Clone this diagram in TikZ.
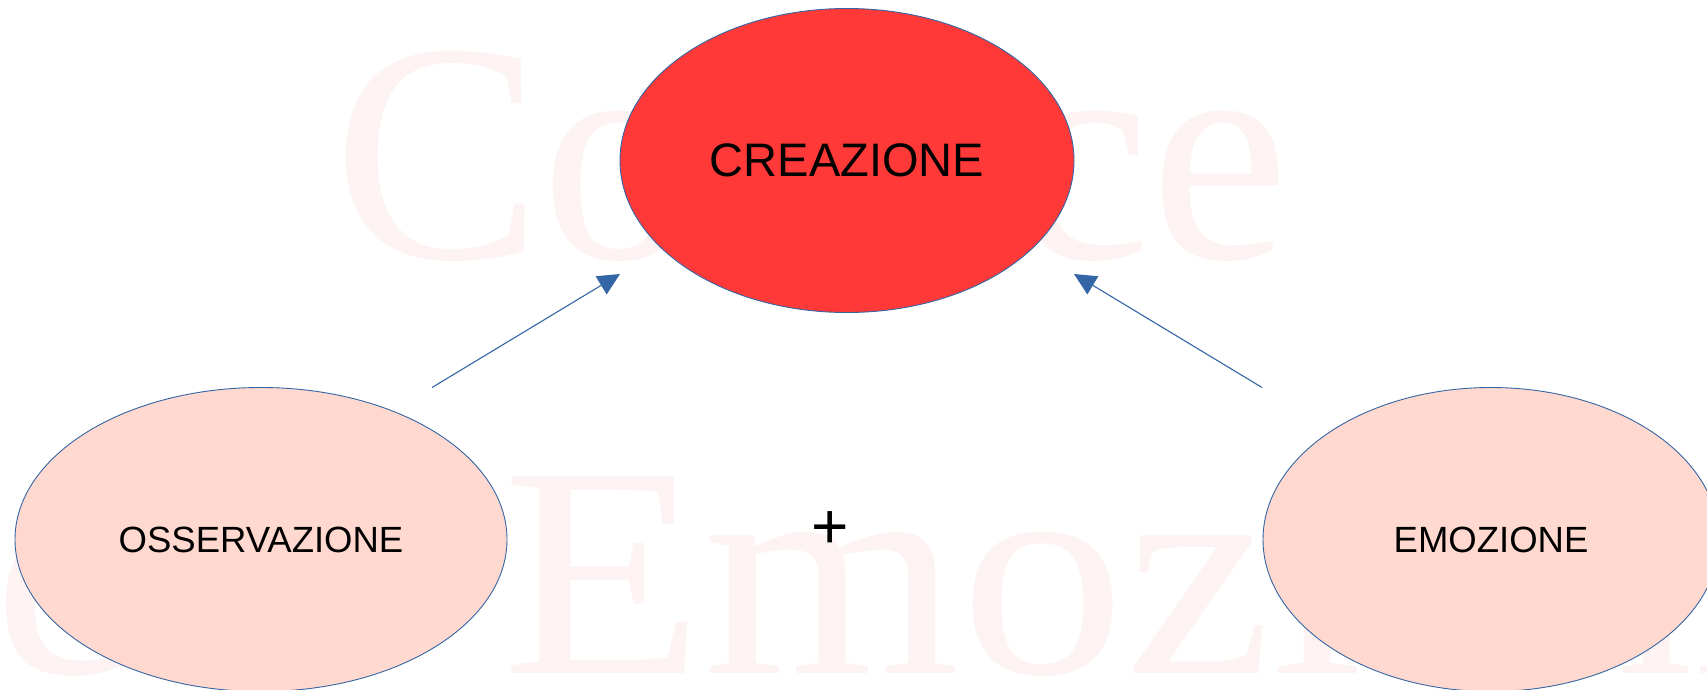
\documentclass[tikz,border=0pt]{standalone}
\usepackage{fontspec}
\setmainfont{Liberation Sans}
\newfontfamily\wmfont{Liberation Serif}
\newfontfamily\wmwide[FakeStretch=1.1]{Liberation Serif}
\usetikzlibrary{arrows.meta,shapes.geometric}
\definecolor{lineblue}{HTML}{3465A4}
\definecolor{crred}{HTML}{FF3838}
\definecolor{palepink}{HTML}{FFD9CF}
\definecolor{wmpink}{RGB}{254,243,243}
\tikzset{
  watermark/.style={inner sep=0pt, outer sep=0pt, anchor=base west, text=wmpink},
  bubble/.style={ellipse, draw=lineblue, line width=0.9pt, inner sep=0pt, outer sep=0pt, text=black},
  link/.style={draw=lineblue, line width=1.1pt, -{Triangle[length=22pt,width=21pt]}},
}
\begin{document}
\begin{tikzpicture}[x=1pt,y=-1pt]
\useasboundingbox (0,0) rectangle (1707,689);
\clip (0,0) rectangle (1707,689);
\fill[white] (0,0) rectangle (1707,689);
% faint watermark
\node[watermark, font=\wmfont\fontsize{313}{313}\selectfont] (wm1) at (333,258) {Co};
\node[watermark, font=\wmfont\fontsize{313}{313}\selectfont] (wm2) at (1012,258) {ce};
\node[watermark, font=\wmwide\fontsize{300}{300}\selectfont] (wm3) at (-6,673) {e};
\node[watermark, font=\wmwide\fontsize{300}{300}\selectfont] (wm4) at (502,673) {Emozioni};
% bubbles
\node[bubble, fill=crred, minimum width=454pt, minimum height=304pt,
      font=\fontsize{47}{47}\selectfont] (crea) at (847,160.5) {CREAZIONE};
\node[bubble, fill=palepink, minimum width=492pt, minimum height=304pt,
      font=\fontsize{36.5}{36.5}\selectfont] (oss) at (261,539.5) {OSSERVAZIONE};
\node[bubble, fill=palepink, minimum width=456pt, minimum height=304pt,
      font=\fontsize{36.5}{36.5}\selectfont] (emo) at (1491,539.5) {EMOZIONE};
% plus
\node[inner sep=0pt, anchor=base, font=\fontsize{64}{64}\selectfont] (plus) at (830,548) {+};
% arrows
\coordinate (lt) at (432,387.5);
\coordinate (lh) at (620,274);
\coordinate (rt) at (1262,387.5);
\coordinate (rh) at (1074,274);
\draw[link] (lt) -- (lh);
\draw[link] (rt) -- (rh);
\end{tikzpicture}
\end{document}
